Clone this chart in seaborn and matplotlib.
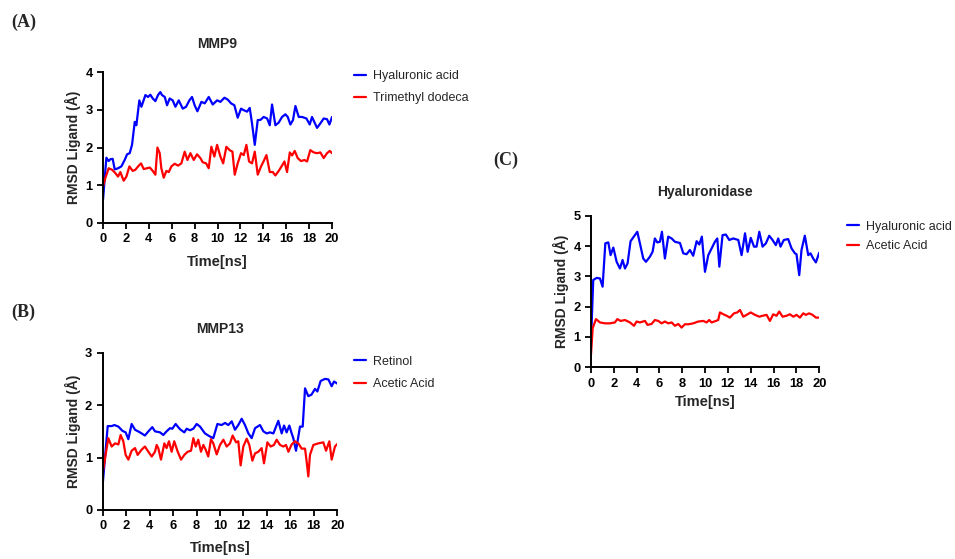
import numpy as np
import pandas as pd
import matplotlib
matplotlib.use("Agg")
import matplotlib.pyplot as plt
import seaborn as sns

# ---------------- DATA ----------------
# Panel A: MMP9
a_hya_t = [0, 0.29, 0.49, 0.64, 0.84, 1.02, 1.31, 1.6, 1.89, 2.1, 2.33, 2.53, 2.77, 2.91, 3.17, 3.35, 3.7, 3.93,
           4.13, 4.34, 4.57, 4.8, 5.0, 5.15, 5.39, 5.59, 5.82, 6.08, 6.32, 6.61, 6.96, 7.25, 7.54, 7.77, 8.0, 8.24,
           8.59, 8.88, 9.23, 9.58, 9.96, 10.25, 10.6, 10.89, 11.18, 11.47, 11.76, 12.05, 12.29, 12.58, 12.81, 13.01,
           13.25, 13.51, 13.74, 14.03, 14.33, 14.56, 14.76, 15.05, 15.34, 15.63, 15.92, 16.13, 16.36, 16.59, 16.8,
           17.09, 17.38, 17.76, 18.05, 18.25, 18.69, 18.98, 19.27, 19.56, 19.77, 20.0]
a_hya_v = [0.62, 1.73, 1.64, 1.69, 1.7, 1.42, 1.45, 1.5, 1.67, 1.82, 1.85, 2.07, 2.68, 2.59, 3.25, 3.08, 3.39, 3.34,
           3.4, 3.3, 3.23, 3.39, 3.47, 3.39, 3.34, 3.12, 3.3, 3.25, 3.08, 3.25, 3.03, 3.08, 3.25, 3.34, 3.12, 2.96,
           3.21, 3.17, 3.34, 3.14, 3.25, 3.21, 3.32, 3.27, 3.17, 3.12, 2.79, 3.03, 2.99, 2.95, 3.05, 2.64,
           2.07, 2.73, 2.73, 2.81, 2.77, 2.59, 3.14, 2.59, 2.66, 2.81, 2.88, 2.81, 2.61, 2.73, 3.1,
           2.81, 2.81, 2.77, 2.61, 2.81, 2.52, 2.64, 2.77, 2.75, 2.61, 2.81]
a_tri_t = [0, 0.2, 0.49, 0.79, 1.08, 1.31, 1.51, 1.8, 2.04, 2.3, 2.59, 2.82, 3.06, 3.32, 3.55, 3.84, 4.08, 4.34,
           4.57, 4.75, 4.95, 5.09, 5.3, 5.53, 5.74, 5.97, 6.26, 6.55, 6.84, 7.13, 7.37, 7.63, 7.92, 8.21, 8.5, 8.7,
           9.0, 9.23, 9.46, 9.72, 9.96, 10.25, 10.49, 10.77, 11.06, 11.3, 11.5, 11.76, 12.05, 12.29, 12.52, 12.75,
           13.01, 13.25, 13.51, 13.8, 14.03, 14.27, 14.56, 14.82, 15.05, 15.34, 15.63, 15.84, 16.07, 16.31, 16.51,
           16.74, 17.0, 17.29, 17.58, 17.82, 18.1, 18.4, 18.69, 18.98, 19.27, 19.56, 19.8, 20.0]
a_tri_v = [0.97, 1.19, 1.45, 1.41, 1.32, 1.23, 1.35, 1.12, 1.23, 1.5, 1.38, 1.41, 1.5, 1.58, 1.43, 1.45, 1.47, 1.38,
           1.28, 2.0, 1.85, 1.45, 1.2, 1.38, 1.35, 1.5, 1.57, 1.52, 1.58, 1.89, 1.67, 1.85, 1.67, 1.82, 1.72, 1.61,
           1.58, 1.45, 2.02, 1.76, 2.07, 1.76, 1.58, 2.02, 1.93, 1.89, 1.28, 1.58, 1.85, 1.8, 2.07, 1.63,
           1.58, 1.89, 1.28, 1.5, 1.64, 1.8, 1.35, 1.35, 1.26, 1.38, 1.52, 1.63, 1.35, 1.87, 1.79,
           1.91, 1.72, 1.64, 1.67, 1.63, 1.93, 1.87, 1.85, 1.87, 1.72, 1.85, 1.91, 1.85]

# Panel B: MMP13
b_ret_t = [0, 0.43, 0.77, 1.0, 1.34, 1.68, 1.96, 2.19, 2.47, 2.76, 3.18, 3.6, 3.9, 4.23, 4.46, 4.89, 5.17, 5.45,
           5.74, 5.94, 6.22, 6.59, 6.96, 7.16, 7.44, 7.73, 8.01, 8.3, 8.72, 9.15, 9.43, 9.78, 10.14, 10.43, 10.71,
           11.0, 11.28, 11.56, 11.85, 12.13, 12.42, 12.7, 12.99, 13.41, 13.7, 13.98, 14.26, 14.55, 14.97, 15.26,
           15.46, 15.68, 15.91, 16.11, 16.25, 16.48, 16.82, 17.05, 17.25, 17.53, 17.8, 18.1, 18.3, 18.58, 18.95,
           19.24, 19.52, 19.72, 20.0]
b_ret_v = [0.48, 1.6, 1.6, 1.62, 1.59, 1.51, 1.48, 1.35, 1.64, 1.53, 1.48, 1.42, 1.5, 1.58, 1.5, 1.48, 1.43, 1.5,
           1.56, 1.55, 1.64, 1.54, 1.48, 1.55, 1.52, 1.55, 1.64, 1.59, 1.46, 1.4, 1.37, 1.64, 1.62, 1.66, 1.62,
           1.69, 1.53, 1.62, 1.74, 1.62, 1.46, 1.37, 1.56, 1.62, 1.5, 1.46, 1.48, 1.46, 1.7, 1.46,
           1.61, 1.48, 1.61, 1.46, 1.37, 1.13, 1.59, 1.59, 2.32, 2.17, 2.2, 2.31, 2.26, 2.46, 2.5,
           2.49, 2.36, 2.45, 2.41]
b_ace_t = [0, 0.48, 0.77, 1.05, 1.34, 1.53, 1.76, 1.96, 2.19, 2.47, 2.76, 2.98, 3.32, 3.6, 3.9, 4.18, 4.46, 4.6,
           4.74, 4.97, 5.26, 5.45, 5.65, 5.88, 6.1, 6.4, 6.68, 6.96, 7.24, 7.53, 7.73, 7.93, 8.15, 8.38, 8.58, 8.78,
           9.0, 9.23, 9.43, 9.72, 10.0, 10.29, 10.57, 10.85, 11.08, 11.37, 11.56, 11.76, 11.99, 12.28, 12.5, 12.76,
           12.99, 13.27, 13.55, 13.75, 14.04, 14.32, 14.6, 14.83, 15.12, 15.4, 15.63, 15.83, 16.11, 16.39, 16.68,
           16.96, 17.25, 17.39, 17.53, 17.67, 17.96, 18.38, 18.81, 19.04, 19.32, 19.52, 19.8, 20.0]
b_ace_v = [0.7, 1.37, 1.21, 1.27, 1.25, 1.43, 1.31, 1.05, 0.96, 1.13, 1.18, 1.05, 1.15, 1.21, 1.11, 1.02, 1.11, 1.24,
           1.18, 0.96, 1.27, 1.18, 1.31, 1.11, 1.31, 1.11, 0.96, 1.05, 1.11, 1.13, 1.37, 1.21, 1.34, 1.11, 1.24, 1.15,
           1.02, 1.35, 1.27, 1.06, 1.24, 1.34, 1.21, 1.27, 1.42, 1.29, 1.31, 0.85, 1.21, 1.36, 1.24, 0.94,
           1.08, 1.11, 1.18, 0.89, 1.29, 1.21, 1.24, 1.34, 1.24, 1.21, 1.24, 1.11, 1.25, 1.31, 1.27,
           1.17, 1.17, 0.92, 0.64, 1.05, 1.24, 1.27, 1.29, 1.13, 1.31, 0.96, 1.21, 1.26]

# Panel C: Hyaluronidase
c_hya_t = [0, 0.2, 0.5, 0.79, 1.02, 1.26, 1.52, 1.72, 1.96, 2.25, 2.54, 2.77, 2.98, 3.21, 3.47, 4.06, 4.29, 4.58,
           4.82, 5.17, 5.4, 5.6, 5.81, 6.04, 6.22, 6.48, 6.77, 7.07, 7.36, 7.8, 8.09, 8.38, 8.67, 8.96, 9.26, 9.49,
           9.72, 9.99, 10.28, 10.57, 10.86, 11.07, 11.25, 11.53, 11.82, 12.12, 12.47, 12.91, 13.2, 13.5, 13.73,
           14.0, 14.29, 14.51, 14.75, 15.04, 15.33, 15.62, 15.91, 16.2, 16.41, 16.61, 16.9, 17.28, 17.58, 17.87,
           18.01, 18.25, 18.45, 18.74, 19.04, 19.24, 19.47, 19.71, 20.0]
c_hya_v = [0.8, 2.88, 2.95, 2.93, 2.66, 4.09, 4.12, 3.7, 3.95, 3.48, 3.26, 3.54, 3.26, 3.43, 4.16, 4.47, 4.09, 3.59,
           3.48, 3.65, 3.81, 4.25, 4.12, 4.14, 4.47, 3.59, 4.31, 4.25, 4.14, 4.1, 3.76, 3.73, 3.87, 3.68, 4.16, 4.05,
           4.31, 3.15, 3.7, 3.92, 4.14, 4.25, 3.32, 4.36, 4.38, 4.2, 4.25, 4.2, 3.7, 4.42, 3.81,
           4.27, 3.98, 3.98, 4.47, 3.98, 4.09, 4.34, 4.2, 4.03, 4.25, 3.98, 4.2, 4.23, 3.92, 3.76,
           3.73, 3.04, 3.87, 4.34, 3.7, 3.76, 3.59, 3.46, 3.78]
c_ace_t = [0, 0.15, 0.44, 0.79, 1.23, 1.66, 2.1, 2.31, 2.6, 2.98, 3.42, 3.77, 4.0, 4.29, 4.73, 4.96, 5.31, 5.6, 5.9,
           6.19, 6.48, 6.77, 7.07, 7.36, 7.65, 7.94, 8.23, 8.53, 8.96, 9.4, 9.84, 10.13, 10.36, 10.57, 10.95, 11.15,
           11.3, 11.6, 11.89, 12.18, 12.53, 12.82, 13.06, 13.35, 13.64, 14.0, 14.37, 14.75, 15.04, 15.39, 15.68,
           15.97, 16.26, 16.5, 16.79, 17.14, 17.43, 17.73, 18.01, 18.31, 18.6, 18.83, 19.12, 19.42, 19.71, 20.0]
c_ace_v = [0.4, 1.29, 1.59, 1.48, 1.45, 1.45, 1.48, 1.59, 1.53, 1.56, 1.48, 1.37, 1.51, 1.48, 1.53, 1.4, 1.43, 1.56,
           1.53, 1.45, 1.51, 1.45, 1.48, 1.37, 1.43, 1.31, 1.42, 1.42, 1.45, 1.51, 1.53, 1.48, 1.56, 1.48, 1.53, 1.56,
           1.81, 1.75, 1.7, 1.64, 1.78, 1.81, 1.89, 1.67, 1.73, 1.81, 1.73, 1.67, 1.7, 1.73, 1.53,
           1.75, 1.7, 1.84, 1.67, 1.7, 1.75, 1.67, 1.73, 1.64, 1.78, 1.73, 1.78, 1.73, 1.64, 1.64]

titles = ["MMP9", "MMP13", "Hyaluronidase"]
panel_labels = ["(A)", "(B)", "(C)"]
series_names = [["Hyaluronic acid", "Trimethyl dodeca"],
                ["Retinol", "Acetic Acid"],
                ["Hyaluronic acid", "Acetic Acid"]]
y_max = [4, 3, 5]
x_ticks = list(range(0, 21, 2))

# ---------------- STYLE ----------------
sns.set_style("ticks")
plt.rcParams['font.family'] = ['Liberation Sans', 'DejaVu Sans']

fig = plt.figure(figsize=(9.55, 5.59), dpi=100)

# axes rectangles in figure fractions [left, bottom, width, height]
rects = [[0.1079, 0.6011, 0.2398, 0.2700],
         [0.1075, 0.0877, 0.2457, 0.2814],
         [0.6188, 0.3429, 0.2390, 0.2712]]
legend_pos = [(0.3685, 0.879), (0.3685, 0.368), (0.8847, 0.610)]
legend_spacing = [0.8, 0.85, 0.6]
xlabel_pad = [7, 6, 4]
title_pad = [17, 14.5, 14]
panel_pos = [(0.012, 0.975), (0.012, 0.457), (0.517, 0.728)]

data = [
    [(a_hya_t, a_hya_v), (a_tri_t, a_tri_v)],
    [(b_ret_t, b_ret_v), (b_ace_t, b_ace_v)],
    [(c_hya_t, c_hya_v), (c_ace_t, c_ace_v)],
]
palette_cols = ["#0000FF", "#FF0000"]

for i in range(3):
    ax = fig.add_axes(rects[i])
    frames = []
    for (t, v), name in zip(data[i], series_names[i]):
        frames.append(pd.DataFrame({"Time": t, "RMSD": v, "Ligand": name}))
    df = pd.concat(frames, ignore_index=True)
    sns.lineplot(data=df, x="Time", y="RMSD", hue="Ligand",
                 palette=dict(zip(series_names[i], palette_cols)),
                 linewidth=1.6, ax=ax, legend=True, estimator=None, sort=False)
    ax.set_xlim(0, 20)
    ax.set_ylim(0, y_max[i])
    ax.set_xticks(x_ticks)
    ax.set_yticks(range(0, y_max[i] + 1))
    sns.despine(ax=ax)
    for s in ["left", "bottom"]:
        ax.spines[s].set_linewidth(1.4)
        ax.spines[s].set_color("black")
    ax.tick_params(direction="out", length=4.5, width=1.3, colors="black", labelsize=9.3, pad=3)
    for lab in ax.get_xticklabels() + ax.get_yticklabels():
        lab.set_fontweight("bold")
    ax.set_xlabel("Time[ns]", fontsize=10.5, fontweight="bold", labelpad=xlabel_pad[i])
    ax.set_ylabel("RMSD Ligand (Å)", fontsize=10, fontweight="bold", labelpad=3)
    ax.set_title(titles[i], fontsize=10, fontweight="bold", pad=title_pad[i])
    handles, labels = ax.get_legend_handles_labels()
    ax.legend(handles, labels, loc="upper left", bbox_to_anchor=legend_pos[i],
              bbox_transform=fig.transFigure, frameon=False, fontsize=9.0,
              handlelength=0.9, handletextpad=0.6, labelspacing=legend_spacing[i],
              borderaxespad=0.0, borderpad=0.2)
    fig.text(panel_pos[i][0], panel_pos[i][1], panel_labels[i], fontsize=13, fontweight="bold",
             family=["Liberation Serif", "DejaVu Serif"], va="top", ha="left")

fig.savefig("out.png", dpi=100)
